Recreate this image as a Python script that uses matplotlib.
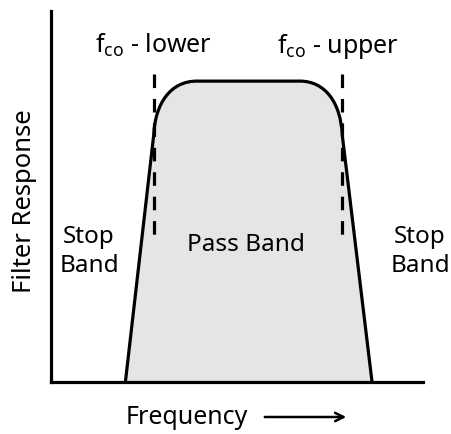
import numpy as np
import matplotlib.pyplot as plt
from matplotlib.path import Path
from matplotlib.patches import PathPatch

plt.rcParams['font.family'] = ['Noto Sans', 'DejaVu Sans']

# filter shape key points (frequency, response)
base_x = [20.0, 86.3]          # where the skirts hit zero
knee_x = [27.6, 78.3]          # where the skirts turn into the rounded corners
knee_y = 66.5
top_x = [39.2, 66.9]           # flat part of the pass band
top_y = 81.1
cutoff_x = [27.7, 78.2]        # dashed cut-off markers
cutoff_y = [39.7, 83.0]

cutoff_labels = [r'f$_{\mathregular{co}}$ - lower', r'f$_{\mathregular{co}}$ - upper']
cutoff_label_x = [27.6, 77.2]

fig = plt.figure(figsize=(4.51, 4.35), dpi=100)
ax = fig.add_axes([51/451, 52/435, 372/451, 371/435])
ax.set_xlim(0, 100)
ax.set_ylim(0, 100)

k = 0.6
verts = [
    (base_x[0], 0),
    (knee_x[0], knee_y),
    (knee_x[0] + 0.4, knee_y + k*(top_y - knee_y)), (top_x[0] - k*(top_x[0] - knee_x[0]), top_y), (top_x[0], top_y),
    (top_x[1], top_y),
    (top_x[1] + k*(knee_x[1] - top_x[1]), top_y), (knee_x[1] - 0.4, knee_y + k*(top_y - knee_y)), (knee_x[1], knee_y),
    (base_x[1], 0),
]
codes = [Path.MOVETO, Path.LINETO,
         Path.CURVE4, Path.CURVE4, Path.CURVE4,
         Path.LINETO,
         Path.CURVE4, Path.CURVE4, Path.CURVE4,
         Path.LINETO]
ax.add_patch(PathPatch(Path(verts, codes), facecolor='#e5e5e5', edgecolor='none'))
ax.add_patch(PathPatch(Path(verts, codes), facecolor='none', edgecolor='black', lw=2.3,
                       capstyle='butt', joinstyle='round'))

for cx in cutoff_x:
    ax.plot([cx, cx], cutoff_y[::-1], color='black', lw=2.3, dashes=(4.25, 3.4), solid_capstyle='butt')

for cx, lab in zip(cutoff_label_x, cutoff_labels):
    ax.text(cx, 88.9, lab, ha='center', va='baseline', fontsize=18)

ax.text(52.4, 37.2, 'Pass Band', ha='center', va='center', fontsize=17.5)
ax.text(10.2, 35.5, 'Stop\nBand', ha='center', va='center', fontsize=17.5, linespacing=1.25)
ax.text(99.2, 35.5, 'Stop\nBand', ha='center', va='center', fontsize=17.5, linespacing=1.25, clip_on=False)

ax.spines['top'].set_visible(False)
ax.spines['right'].set_visible(False)
for s in ['left', 'bottom']:
    ax.spines[s].set_linewidth(2.3)
ax.set_xticks([])
ax.set_yticks([])
ax.patch.set_alpha(0)

fig.text(25/451, 1 - 201/435, 'Filter Response', rotation=90, ha='center', va='center', fontsize=18.5)
fig.text(187/451, 1 - 418/435, 'Frequency', ha='center', va='center', fontsize=18)
ax.annotate('', xy=(349/451, 1 - 418/435), xytext=(262/451, 1 - 418/435),
            xycoords='figure fraction', textcoords='figure fraction',
            arrowprops=dict(arrowstyle='->', lw=1.8, color='black', mutation_scale=15))

fig.savefig('out.png', dpi=100, facecolor='white')
